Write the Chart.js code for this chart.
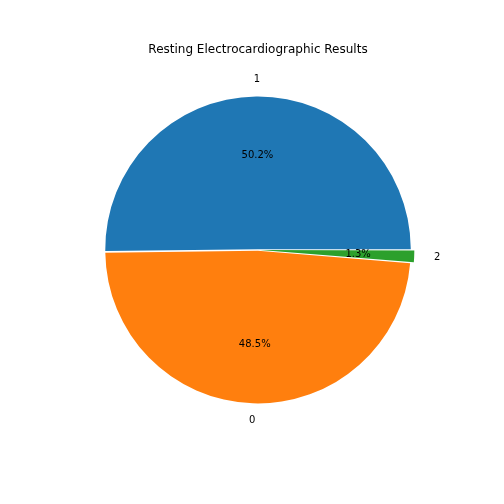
<!DOCTYPE html>
<html><head><script src="https://cdn.jsdelivr.net/npm/chart.js@4"></script>
<style>html,body{margin:0;padding:0;background:#fff}#w{width:504px;height:504px}</style></head>
<body><div id="w"><canvas id="c" width="504" height="504"></canvas></div>
<script>
const labels = ['2', '0', '1'];
const percents = [1.3, 48.5, 50.2];
const colors = ['#2ca02c', '#ff7f0e', '#1f77b4'];
const offsets = [9, 3, 3];
const titleText = 'Resting Electrocardiographic Results';

const textPlugin = {
  id: 'pieText',
  afterDraw(chart) {
    const ctx = chart.ctx;
    ctx.save();
    ctx.fillStyle = '#000';
    ctx.font = '12px "DejaVu Sans"';
    ctx.textAlign = 'center'; ctx.textBaseline = 'middle';
    ctx.fillText(titleText, 258, 50);
    ctx.font = '10px "DejaVu Sans"';
    const meta = chart.getDatasetMeta(0);
    meta.data.forEach((arc, i) => {
      const a = (arc.startAngle + arc.endAngle) / 2;
      const r = arc.outerRadius;
      const off = offsets[i];
      const cx = arc.x + off * Math.cos(a), cy = arc.y + off * Math.sin(a);
      ctx.textAlign = 'center';
      ctx.fillText(percents[i].toFixed(1) + '%', cx + 0.6 * r * Math.cos(a), cy + 0.6 * r * Math.sin(a));
      const lx = cx + 1.1 * r * Math.cos(a), ly = cy + 1.1 * r * Math.sin(a);
      const c = Math.cos(a);
      ctx.textAlign = Math.abs(c) < 0.05 ? 'center' : (c > 0 ? 'left' : 'right');
      ctx.fillText(labels[i], lx, ly);
    });
    ctx.restore();
  }
};

new Chart(document.getElementById('c'), {
  type: 'pie',
  data: { labels: labels, datasets: [{ data: percents, backgroundColor: colors, borderWidth: 0, offset: offsets }] },
  options: {
    responsive: false, animation: false, rotation: 90, radius: 152,
    layout: { padding: { left: 12, right: 0, top: 0, bottom: 4 } },
    plugins: { legend: { display: false }, tooltip: { enabled: false }, title: { display: false } }
  },
  plugins: [textPlugin]
});
</script></body></html>
